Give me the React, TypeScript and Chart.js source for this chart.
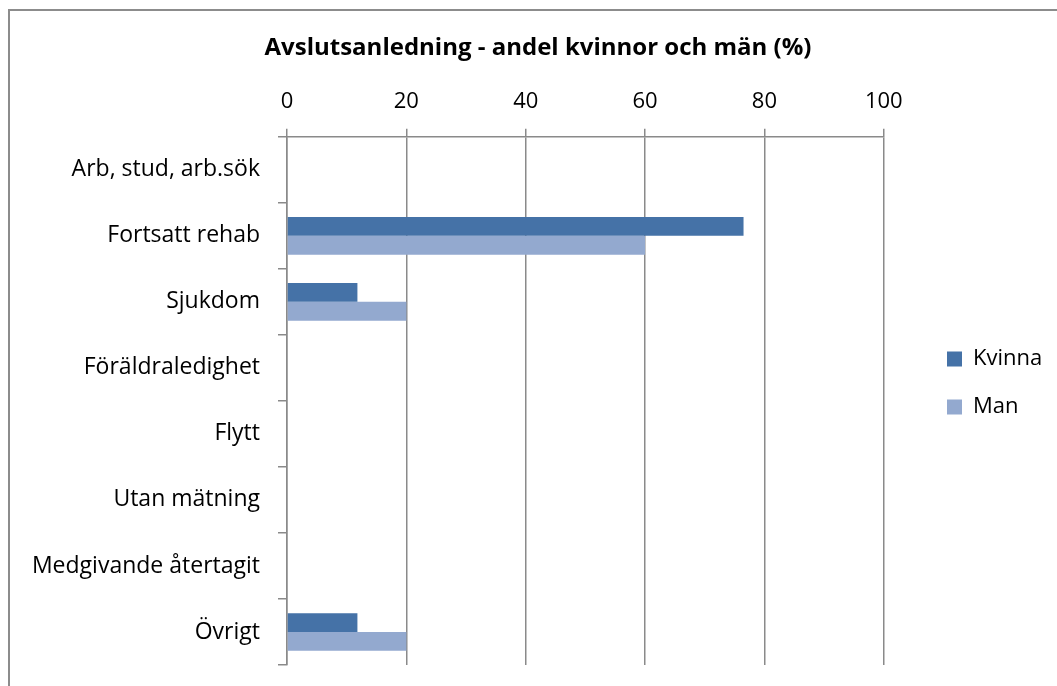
import { useEffect, useRef } from "react";
import { Chart, registerables } from "chart.js";

Chart.register(...registerables);

const categories = [
  "Arb, stud, arb.sök",
  "Fortsatt rehab",
  "Sjukdom",
  "Föräldraledighet",
  "Flytt",
  "Utan mätning",
  "Medgivande återtagit",
  "Övrigt",
];
const kvinnaValues = [0, 76.5, 11.8, 0, 0, 0, 0, 11.8];
const manValues = [0, 60, 20, 0, 0, 0, 0, 20];
const seriesNames = ["Kvinna", "Man"];
const titleText = "Avslutsanledning - andel kvinnor och män (%)";

const FONT = "'Open Sans', Lato, sans-serif";
const GRID = "#8a8a8a";

const layoutShift = {
  id: "layoutShift",
  afterLayout(chart: any) {
    const lg = chart.legend;
    if (lg) {
      const w = lg.width;
      const h = lg.height;
      lg.left = 921;
      lg.right = 921 + w;
      lg.top = 348 - 26;
      lg.bottom = lg.top + h;
    }
    const tb = chart.titleBlock;
    if (tb) {
      const w = tb.right - tb.left;
      tb.left = 538 - w / 2;
      tb.right = 538 + w / 2;
    }
  },
};

export default function App() {
  const ref = useRef<HTMLCanvasElement>(null);
  useEffect(() => {
    const chart = new Chart(ref.current!, {
      type: "bar",
      data: {
        labels: categories,
        datasets: [
          {
            label: seriesNames[0],
            data: kvinnaValues,
            backgroundColor: "#4572A7",
            categoryPercentage: 0.571,
            barPercentage: 1,
          },
          {
            label: seriesNames[1],
            data: manValues,
            backgroundColor: "#93A9CF",
            categoryPercentage: 0.571,
            barPercentage: 1,
          },
        ],
      },
      options: {
        indexAxis: "y",
        responsive: false,
        animation: false,
        layout: { padding: { left: 10, top: 10, right: 42, bottom: 21 } },
        plugins: {
          title: {
            display: true,
            text: titleText,
            color: "#000",
            font: { family: FONT, size: 24, weight: "bold" },
            padding: { top: 24, bottom: 17 },
          },
          legend: {
            position: "right",
            align: "start",
            labels: {
              color: "#000",
              font: { family: FONT, size: 22 },
              boxWidth: 15,
              boxHeight: 15,
              padding: 26,
            },
          },
          tooltip: { enabled: false },
        },
        scales: {
          x: {
            position: "top",
            min: 0,
            max: 100,
            ticks: {
              stepSize: 20,
              color: "#000",
              font: { family: FONT, size: 22 },
              padding: 14,
            },
            grid: { color: GRID, lineWidth: 1.5, tickLength: 8 },
            border: { color: GRID, width: 1.5 },
            afterFit: (s: any) => {
              s.height = 57;
            },
          },
          y: {
            ticks: {
              color: "#000",
              font: { family: FONT, size: 23 },
              padding: 18,
            },
            grid: {
              drawOnChartArea: false,
              color: GRID,
              lineWidth: 1.5,
              tickLength: 9,
            },
            border: { color: GRID, width: 1.5 },
            afterFit: (s: any) => {
              s.width = 277;
              s.paddingTop = 0;
              s.paddingBottom = 0;
            },
          },
        },
      },
      plugins: [layoutShift],
    });
    return () => chart.destroy();
  }, []);

  return (
    <div
      style={{
        position: "fixed",
        left: 0,
        top: 0,
        width: 1057,
        height: 686,
        overflow: "hidden",
        background: "#fff",
      }}
    >
      <div
        style={{
          position: "absolute",
          left: 8,
          top: 9,
          width: 1100,
          height: 700,
          borderLeft: "2px solid #8c8c8c",
          borderTop: "2px solid #8c8c8c",
        }}
      />
      <canvas
        ref={ref}
        width={1057}
        height={686}
        style={{ position: "absolute", left: 0, top: 0 }}
      />
    </div>
  );
}
